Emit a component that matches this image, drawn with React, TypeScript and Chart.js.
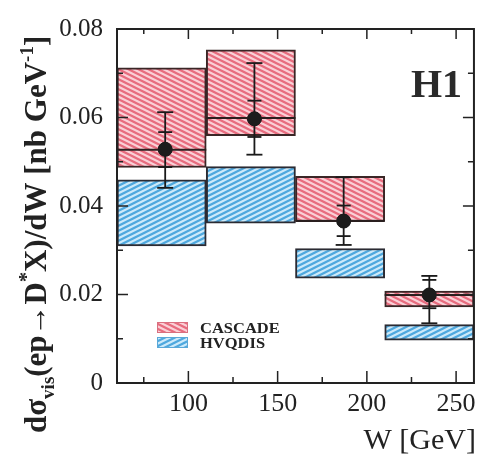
import React, { useEffect, useRef } from "react";
import { Chart, registerables } from "chart.js";

Chart.register(...registerables);

// ---- data ----
const binCenters = [85, 135, 185, 235];
const cascadeLow = [0.0487, 0.0559, 0.0365, 0.0172];
const cascadeHigh = [0.0712, 0.0753, 0.0467, 0.0208];
const cascadeCentral = [0.0527, 0.0599, 0.0366, 0.0199];
const hvqdisLow = [0.031, 0.0361, 0.0237, 0.0097];
const hvqdisHigh = [0.0459, 0.0489, 0.0304, 0.0132];

const dataW = [87, 137, 187, 235];
const dataY = [0.0528, 0.0597, 0.0366, 0.0199];
const statUp = [0.0039, 0.0041, 0.0035, 0.0034];
const statDown = [0.004, 0.0041, 0.0034, 0.003];
const totUp = [0.0084, 0.0126, 0.0099, 0.0043];
const totDown = [0.0087, 0.0081, 0.0054, 0.0064];

const xMajorTicks = [100, 150, 200, 250];
const xMinorTicks = [75, 125, 175, 225];
const yMajorTicks = [0, 0.02, 0.04, 0.06, 0.08];
const yMinorTicks = [0.01, 0.03, 0.05, 0.07];

const legendLabels = ["CASCADE", "HVQDIS"];

const SERIF = "'Liberation Serif', 'Times New Roman', serif";
const INK = "#222";

function makeHatch(bg: string, fg: string, dir: number): CanvasPattern | string {
  const c = document.createElement("canvas");
  c.width = 10;
  c.height = 5;
  const g = c.getContext("2d");
  if (!g) return bg;
  g.fillStyle = bg;
  g.fillRect(0, 0, 10, 5);
  g.strokeStyle = fg;
  g.lineWidth = 2.3;
  for (let k = -3; k <= 3; k++) {
    g.beginPath();
    if (dir > 0) {
      g.moveTo(-10, -5 + k * 5);
      g.lineTo(20, 10 + k * 5);
    } else {
      g.moveTo(-10, 10 + k * 5);
      g.lineTo(20, -5 + k * 5);
    }
    g.stroke();
  }
  const p = g.createPattern(c, "repeat");
  return p || bg;
}

export default function App() {
  const ref = useRef<HTMLCanvasElement | null>(null);

  useEffect(() => {
    const canvas = ref.current;
    if (!canvas) return;
    const redPat = makeHatch("#fad0d7", "#e76c7e", 1);
    const bluePat = makeHatch("#cdeafa", "#4ea8de", -1);

    const overlay = {
      id: "overlay",
      afterDatasetsDraw(chart: any) {
        const ctx = chart.ctx;
        const xs = chart.scales.x;
        const ys = chart.scales.y;
        ctx.save();
        // central CASCADE lines
        ctx.strokeStyle = "#2a1f1f";
        ctx.lineWidth = 2;
        binCenters.forEach((c, i) => {
          const y = ys.getPixelForValue(cascadeCentral[i]);
          ctx.beginPath();
          ctx.moveTo(xs.getPixelForValue(c - 25), y);
          ctx.lineTo(xs.getPixelForValue(c + 25), y);
          ctx.stroke();
        });
        // error bars
        ctx.strokeStyle = "#1a1a1a";
        ctx.lineWidth = 1.8;
        dataW.forEach((w, i) => {
          const x = xs.getPixelForValue(w);
          const yT = ys.getPixelForValue(dataY[i] + totUp[i]);
          const yB = ys.getPixelForValue(dataY[i] - totDown[i]);
          ctx.beginPath();
          ctx.moveTo(x, yT);
          ctx.lineTo(x, yB);
          ctx.stroke();
          const caps = [
            [dataY[i] + totUp[i], 8],
            [dataY[i] - totDown[i], 8],
            [dataY[i] + statUp[i], 7],
            [dataY[i] - statDown[i], 7],
          ];
          caps.forEach(([v, hw]) => {
            const y = ys.getPixelForValue(v);
            ctx.beginPath();
            ctx.moveTo(x - hw, y);
            ctx.lineTo(x + hw, y);
            ctx.stroke();
          });
          // data point marker on top
          const yc = ys.getPixelForValue(dataY[i]);
          ctx.fillStyle = "#1c1c1c";
          ctx.beginPath();
          ctx.arc(x, yc, 7, 0, Math.PI * 2);
          ctx.fill();
        });
        ctx.restore();
      },
      afterDraw(chart: any) {
        const ctx = chart.ctx;
        const xs = chart.scales.x;
        const ys = chart.scales.y;
        const a = chart.chartArea;
        ctx.save();
        // frame
        ctx.strokeStyle = INK;
        ctx.lineWidth = 2;
        ctx.strokeRect(a.left, a.top, a.right - a.left, a.bottom - a.top);
        // ticks
        ctx.lineWidth = 1.5;
        const tickX = (v: number, lb: number, lt: number) => {
          const x = xs.getPixelForValue(v);
          ctx.beginPath();
          ctx.moveTo(x, a.bottom);
          ctx.lineTo(x, a.bottom - lb);
          ctx.moveTo(x, a.top);
          ctx.lineTo(x, a.top + lt);
          ctx.stroke();
        };
        xMajorTicks.forEach((v) => tickX(v, 12, 10));
        xMinorTicks.forEach((v) => tickX(v, 6, 5));
        const tickY = (v: number, l: number) => {
          const y = ys.getPixelForValue(v);
          ctx.beginPath();
          ctx.moveTo(a.left, y);
          ctx.lineTo(a.left + l, y);
          ctx.moveTo(a.right, y);
          ctx.lineTo(a.right - l, y);
          ctx.stroke();
        };
        yMajorTicks.forEach((v) => tickY(v, 11));
        yMinorTicks.forEach((v) => tickY(v, 6));

        // H1 label
        ctx.fillStyle = "#2a2a2a";
        ctx.font = `bold 40px ${SERIF}`;
        ctx.textAlign = "left";
        ctx.textBaseline = "alphabetic";
        ctx.fillText("H1", 411, 97);

        // legend
        const pats = [redPat, bluePat];
        const edge = ["#d97080", "#5aa8d8"];
        legendLabels.forEach((lab, i) => {
          const y0 = 322 + i * 15;
          ctx.fillStyle = pats[i];
          ctx.fillRect(157, y0, 31, 11);
          ctx.strokeStyle = edge[i];
          ctx.lineWidth = 1;
          ctx.strokeRect(157.5, y0 + 0.5, 30, 10);
          ctx.fillStyle = INK;
          ctx.font = `bold 15px ${SERIF}`;
          ctx.save();
          ctx.translate(200, y0 + 11);
          ctx.scale(1.1, 1);
          ctx.fillText(lab, 0, 0);
          ctx.restore();
        });

        // x title
        ctx.fillStyle = INK;
        ctx.font = `30px ${SERIF}`;
        ctx.textAlign = "right";
        ctx.fillText("W [GeV]", 476, 449);

        // y title (rotated, rich text)
        ctx.save();
        ctx.translate(46, 433);
        ctx.rotate(-Math.PI / 2);
        ctx.textAlign = "left";
        const base = 31;
        const parts: [string, number, number][] = [
          ["dσ", 1, 0],
          ["vis", 0.6, 8],
          ["(ep→D", 1, 0],
          ["*", 0.65, -13],
          ["X)/dW [nb GeV", 1, 0],
          ["-1", 0.6, -13],
          ["]", 1, 0],
        ];
        let cx = 0;
        parts.forEach(([t, s, dy]) => {
          ctx.font = `bold ${Math.round(base * s)}px ${SERIF}`;
          ctx.fillText(t, cx, dy);
          cx += ctx.measureText(t).width;
        });
        ctx.restore();
        ctx.restore();
      },
    };

    const chart = new Chart(canvas, {
      type: "bar",
      data: {
        datasets: [
          {
            type: "bar",
            label: legendLabels[1],
            data: binCenters.map((c, i) => ({ x: c, y: [hvqdisLow[i], hvqdisHigh[i]] })),
            backgroundColor: bluePat as any,
            borderColor: "#2b2b33",
            borderWidth: 2,
            borderSkipped: false,
            grouped: false,
            barPercentage: 1,
            categoryPercentage: 1,
            order: 2,
          } as any,
          {
            type: "bar",
            label: legendLabels[0],
            data: binCenters.map((c, i) => ({ x: c, y: [cascadeLow[i], cascadeHigh[i]] })),
            backgroundColor: redPat as any,
            borderColor: "#3a2626",
            borderWidth: 2,
            borderSkipped: false,
            grouped: false,
            barPercentage: 1,
            categoryPercentage: 1,
            order: 1,
          } as any,
          {
            type: "scatter",
            label: "H1 data",
            data: dataW.map((w, i) => ({ x: w, y: dataY[i] })),
            backgroundColor: "#1c1c1c",
            borderColor: "#1c1c1c",
            pointRadius: 7,
            pointHoverRadius: 7,
            order: 0,
          } as any,
        ],
      },
      options: {
        responsive: false,
        devicePixelRatio: 1,
        animation: false,
        layout: { padding: { left: 0, top: 22, right: 5, bottom: 0 } },
        plugins: { legend: { display: false }, tooltip: { enabled: false } },
        scales: {
          x: {
            type: "linear",
            min: 60,
            max: 260,
            offset: false,
            grid: { display: false, drawTicks: false },
            border: { display: false },
            afterBuildTicks: (s: any) => {
              s.ticks = xMajorTicks.map((v) => ({ value: v }));
            },
            afterFit: (s: any) => {
              s.height = 73;
            },
            ticks: {
              color: INK,
              font: { family: SERIF, size: 26 },
              padding: 6,
              maxRotation: 0,
              callback: (v: any) => String(v),
            },
          },
          y: {
            type: "linear",
            min: 0,
            max: 0.08,
            grid: { display: false, drawTicks: false },
            border: { display: false },
            afterBuildTicks: (s: any) => {
              s.ticks = yMajorTicks.map((v) => ({ value: v }));
            },
            afterFit: (s: any) => {
              s.width = 117;
            },
            ticks: {
              color: INK,
              font: { family: SERIF, size: 25 },
              padding: 14,
              callback: (v: any) => (Number(v) === 0 ? "0" : Number(v).toFixed(2)),
            },
          },
        },
      } as any,
      plugins: [overlay],
    });
    return () => chart.destroy();
  }, []);

  return (
    <div style={{ position: "fixed", left: 0, top: 0, width: 482, height: 456, background: "#fff" }}>
      <canvas ref={ref} width={482} height={456} style={{ width: 482, height: 456, display: "block" }} />
    </div>
  );
}
